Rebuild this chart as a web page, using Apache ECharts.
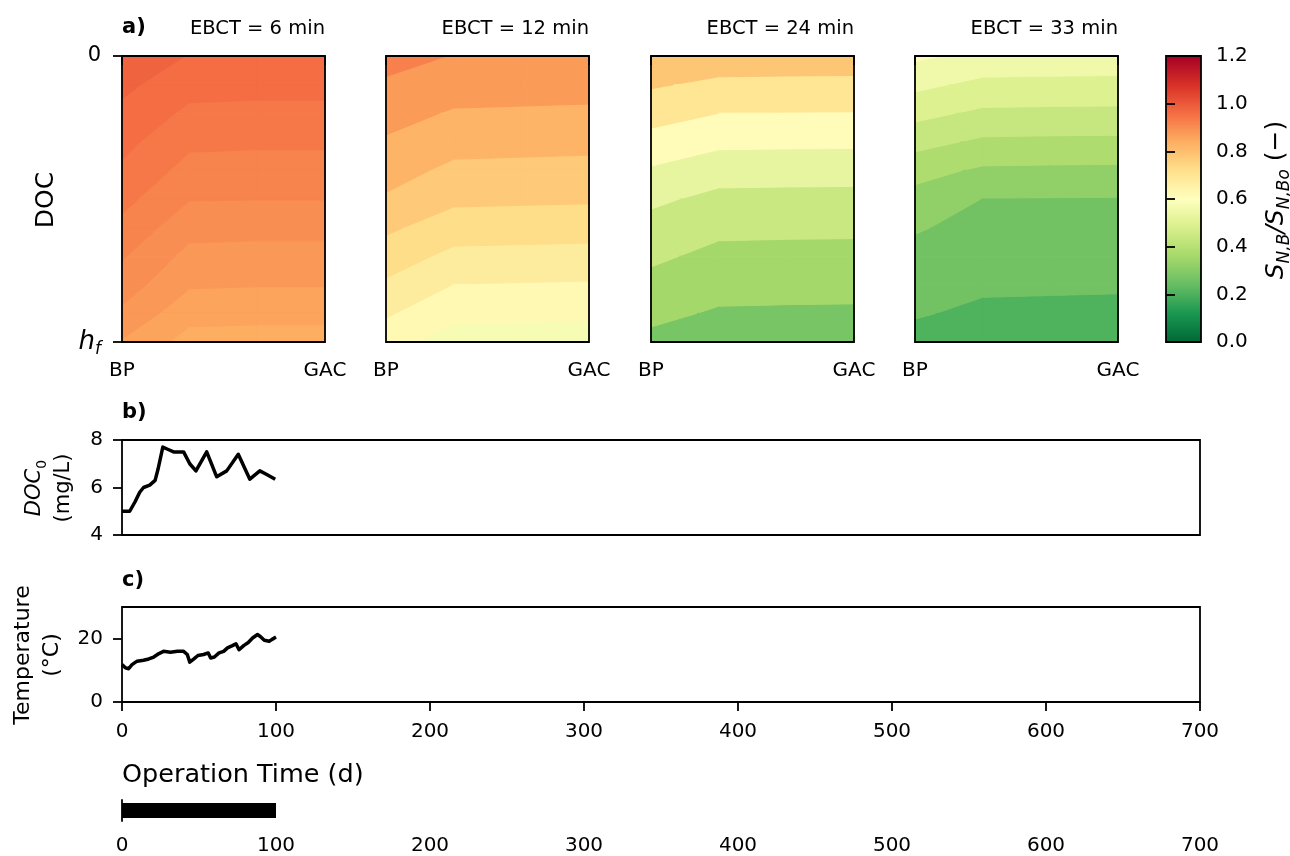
<!DOCTYPE html>
<html>
<head>
<meta charset="utf-8">
<script src="https://cdn.jsdelivr.net/npm/echarts@6/dist/echarts.min.js"></script>
<style>
  html, body { margin: 0; padding: 0; background: #fff; }
  #chart { width: 1290px; height: 856px; }
</style>
</head>
<body>
<div id="chart"></div>
<script>
// ---- Filter profile data -------------------------------------------------
// Columns: position along the treatment train (BP ... GAC); rows: depth from top (0) to h_f (1)
const filterPositions = [0, 1, 2, 3];
const positionTicks = [0, 3];
const positionLabels = ['BP', 'GAC'];
const depthNodes = [0, 0.1, 0.2, 0.3, 0.4, 0.5, 0.6, 0.7, 0.8, 0.9, 1.0];
const depthTicks = [0, 1];
const ebctTitles = ['EBCT = 6 min', 'EBCT = 12 min', 'EBCT = 24 min', 'EBCT = 33 min'];

// Normalised biomass S_N,B / S_N,Bo, one row per depth node
const snbEbct6 = [
  [0.984, 0.969, 0.968, 0.968],
  [0.975, 0.957, 0.956, 0.956],
  [0.965, 0.946, 0.945, 0.945],
  [0.956, 0.934, 0.933, 0.933],
  [0.947, 0.923, 0.922, 0.922],
  [0.936, 0.911, 0.9105, 0.9105],
  [0.925, 0.897, 0.896, 0.896],
  [0.912, 0.884, 0.883, 0.883],
  [0.900, 0.872, 0.871, 0.871],
  [0.886, 0.857, 0.856, 0.856],
  [0.868, 0.842, 0.841, 0.841]
];
const snbEbct12 = [
  [0.918, 0.898, 0.898, 0.897],
  [0.893, 0.873, 0.871, 0.869],
  [0.869, 0.845, 0.843, 0.841],
  [0.844, 0.817, 0.815, 0.813],
  [0.820, 0.789, 0.787, 0.785],
  [0.794, 0.760, 0.758, 0.756],
  [0.759, 0.724, 0.722, 0.720],
  [0.726, 0.687, 0.685, 0.683],
  [0.692, 0.649, 0.647, 0.645],
  [0.656, 0.613, 0.611, 0.609],
  [0.620, 0.576, 0.574, 0.572]
];
const snbEbct24 = [
  [0.809, 0.788, 0.786, 0.785],
  [0.749, 0.722, 0.720, 0.719],
  [0.688, 0.655, 0.653, 0.652],
  [0.625, 0.589, 0.587, 0.586],
  [0.560, 0.520, 0.518, 0.517],
  [0.501, 0.463, 0.461, 0.460],
  [0.456, 0.418, 0.416, 0.415],
  [0.415, 0.379, 0.377, 0.376],
  [0.375, 0.342, 0.340, 0.339],
  [0.334, 0.306, 0.304, 0.303],
  [0.294, 0.269, 0.267, 0.266]
];
const snbEbct33 = [
  [0.592, 0.563, 0.561, 0.560],
  [0.537, 0.509, 0.507, 0.506],
  [0.482, 0.454, 0.452, 0.451],
  [0.427, 0.397, 0.395, 0.394],
  [0.370, 0.340, 0.338, 0.337],
  [0.328, 0.290, 0.289, 0.288],
  [0.296, 0.274, 0.273, 0.272],
  [0.275, 0.257, 0.256, 0.255],
  [0.256, 0.240, 0.239, 0.238],
  [0.237, 0.224, 0.223, 0.222],
  [0.217, 0.207, 0.206, 0.205]
];

// Filled-contour levels for each panel
const levelsEbct6 = [0.83, 0.85, 0.87, 0.89, 0.91, 0.93, 0.95, 0.97, 0.99];
const levelsEbct12 = [0.55, 0.60, 0.65, 0.70, 0.75, 0.80, 0.85, 0.90, 0.95];
const levelsEbct24 = [0.23, 0.315, 0.40, 0.485, 0.57, 0.655, 0.74, 0.825];
const levelsEbct33 = [0.175, 0.233, 0.291, 0.349, 0.407, 0.465, 0.523, 0.581, 0.639];

const colorbarTicks = [0, 0.2, 0.4, 0.6, 0.8, 1.0, 1.2];

// ---- Influent time series --------------------------------------------------
const docDays   = [0, 5, 8.5, 11.5, 14, 18, 21.5, 23.5, 26.5, 30, 33.5, 40, 44, 48, 55, 61.5, 68, 75.5, 83, 89.5, 94, 99.5];
const docValues = [5.0, 5.0, 5.4, 5.8, 6.0, 6.1, 6.3, 6.8, 7.7, 7.6, 7.5, 7.5, 7.0, 6.7, 7.5, 6.45, 6.7, 7.4, 6.35, 6.7, 6.55, 6.35];

const tempDays   = [0, 2.2, 4.3, 6.5, 9.8, 14, 17.4, 20.6, 24, 27, 31.5, 36, 40, 42.4, 44, 46.7, 49.3, 53, 56, 57.6, 60, 63, 66, 68.5, 71.7, 74, 76, 79, 82, 84.8, 88, 89.8, 92.4, 95.6, 97.2, 100];
const tempValues = [11.8, 10.8, 10.5, 11.8, 12.9, 13.2, 13.6, 14.2, 15.3, 16.0, 15.7, 16.0, 16.0, 15.0, 12.6, 13.6, 14.7, 15.0, 15.5, 13.9, 14.2, 15.5, 16.0, 17.1, 17.8, 18.4, 16.5, 17.8, 18.8, 20.2, 21.3, 20.7, 19.5, 19.2, 19.7, 20.5];

const operationSpan = [0, 100];
const timeTicks = [0, 100, 200, 300, 400, 500, 600, 700];

// ---- Colour map (RdYlGn reversed, 0 .. 1.2) --------------------------------
const RDYLGN_R = ['#006837', '#1a9850', '#66bd63', '#a6d96a', '#d9ef8b', '#ffffbf',
                  '#fee08b', '#fdae61', '#f46d43', '#d73027', '#a50026'];
const CBAR_MIN = 0, CBAR_MAX = 1.2;
const RGB_STOPS = RDYLGN_R.map(h => [1, 3, 5].map(o => parseInt(h.substr(o, 2), 16)));
function cmap(v) {
  const t = Math.min(1, Math.max(0, (v - CBAR_MIN) / (CBAR_MAX - CBAR_MIN))) * 10;
  const i = Math.min(9, Math.floor(t));
  const f = t - i;
  const a = RGB_STOPS[i], b = RGB_STOPS[i + 1];
  const c = a.map((x, k) => Math.round(x + f * (b[k] - x)));
  return 'rgb(' + c.join(',') + ')';
}

// Clip a polygon of [x, depth, value] vertices to the side where f(p) >= 0
function clipPoly(poly, f) {
  const out = [];
  for (let i = 0; i < poly.length; i++) {
    const a = poly[i], b = poly[(i + 1) % poly.length];
    const fa = f(a), fb = f(b);
    if (fa >= 0) out.push(a);
    if ((fa >= 0) !== (fb >= 0)) {
      const t = fa / (fa - fb);
      out.push([a[0] + t * (b[0] - a[0]), a[1] + t * (b[1] - a[1]), a[2] + t * (b[2] - a[2])]);
    }
  }
  return out;
}

// Filled contours: each grid cell is cut into its level bands, with the
// band edges interpolated linearly along the cell sides (marching squares).
function contourSeries(idx, Z, levels) {
  const cells = [];
  for (let j = 0; j < depthNodes.length - 1; j++) {
    for (let i = 0; i < filterPositions.length - 1; i++) cells.push([i, j]);
  }
  return {
    type: 'custom',
    coordinateSystem: 'cartesian2d',
    xAxisIndex: idx,
    yAxisIndex: idx,
    silent: true,
    z: 1,
    data: cells,
    renderItem(params, api) {
      const i = api.value(0), j = api.value(1);
      const x0 = filterPositions[i], x1 = filterPositions[i + 1];
      const d0 = depthNodes[j], d1 = depthNodes[j + 1];
      const quad = [
        [x0, d0, Z[j][i]], [x1, d0, Z[j][i + 1]],
        [x1, d1, Z[j + 1][i + 1]], [x0, d1, Z[j + 1][i]]
      ];
      const children = [];
      for (let k = 0; k < levels.length - 1; k++) {
        const lo = levels[k], hi = levels[k + 1];
        let poly = clipPoly(quad, p => p[2] - lo);
        if (poly.length < 3) continue;
        poly = clipPoly(poly, p => hi - p[2]);
        if (poly.length < 3) continue;
        const col = cmap((lo + hi) / 2);
        children.push({
          type: 'polygon',
          shape: { points: poly.map(p => api.coord([p[0], p[1]])) },
          style: { fill: col, stroke: col, lineWidth: 1 }
        });
      }
      return { type: 'group', children };
    }
  };
}

// ---- Layout ----------------------------------------------------------------
const FONT = 'DejaVu Sans';
const INK = '#000';
const LINE_W = 1.8;
const TICK_FS = 20;
const panelLefts = [122, 386, 651, 915];
const PANEL_W = 203, PANEL_TOP = 56, PANEL_H = 286;
const fieldData = [snbEbct6, snbEbct12, snbEbct24, snbEbct33];
const fieldLevels = [levelsEbct6, levelsEbct12, levelsEbct24, levelsEbct33];

const frame = { show: true, borderColor: INK, borderWidth: LINE_W, backgroundColor: 'transparent', z: 10 };
const tickStyle = { color: INK, width: LINE_W };
const grids = [];
const xAxes = [];
const yAxes = [];
const series = [];

panelLefts.forEach((left, p) => {
  grids.push(Object.assign({ left, top: PANEL_TOP, width: PANEL_W, height: PANEL_H }, frame));
  xAxes.push({
    gridIndex: p, type: 'value', min: 0, max: 3, z: 10,
    axisLine: { show: false }, splitLine: { show: false },
    axisTick: { show: true, customValues: positionTicks, length: 9, lineStyle: tickStyle },
    axisLabel: {
      show: true, customValues: positionTicks, margin: 19,
      fontFamily: FONT, fontSize: TICK_FS, color: INK,
      formatter: v => positionLabels[positionTicks.indexOf(v)]
    }
  });
  yAxes.push({
    gridIndex: p, type: 'value', min: 0, max: 1, inverse: true, z: 10,
    axisLine: { show: false }, splitLine: { show: false },
    axisTick: { show: p === 0, customValues: depthTicks, length: 9, lineStyle: tickStyle },
    axisLabel: {
      show: p === 0, customValues: depthTicks, margin: 21,
      fontFamily: FONT, fontSize: 21, color: INK,
      formatter: v => (v === 0 ? '0' : '{h|h}{f|f}'),
      rich: {
        h: { fontFamily: FONT, fontSize: 26, fontStyle: 'italic', color: INK, lineHeight: 32, verticalAlign: 'middle' },
        f: { fontFamily: FONT, fontSize: 17, fontStyle: 'italic', color: INK, lineHeight: 17, verticalAlign: 'bottom' }
      }
    }
  });
  series.push(contourSeries(p, fieldData[p], fieldLevels[p]));
});

// Colour bar
grids.push(Object.assign({ left: 1166, top: PANEL_TOP, width: 35, height: PANEL_H }, frame));
xAxes.push({ gridIndex: 4, type: 'value', min: 0, max: 1, show: false });
yAxes.push({
  gridIndex: 4, type: 'value', position: 'right', min: CBAR_MIN, max: CBAR_MAX, interval: 0.2, z: 10,
  axisLine: { show: false }, splitLine: { show: false },
  axisTick: { show: true, inside: false, length: 9, lineStyle: tickStyle, customValues: colorbarTicks },
  axisLabel: { margin: 15, fontFamily: FONT, fontSize: TICK_FS, color: INK, customValues: colorbarTicks, formatter: v => v.toFixed(1) }
});
series.push({
  type: 'custom', coordinateSystem: 'cartesian2d', xAxisIndex: 4, yAxisIndex: 4, silent: true, z: 1,
  data: [[0, CBAR_MIN]],
  renderItem(params, api) {
    const lb = api.coord([0, CBAR_MIN]);
    const rt = api.coord([1, CBAR_MAX]);
    return {
      type: 'rect',
      shape: { x: lb[0], y: rt[1], width: rt[0] - lb[0], height: lb[1] - rt[1] },
      style: {
        fill: {
          type: 'linear', x: 0, y: 1, x2: 0, y2: 0,
          colorStops: RDYLGN_R.map((c, k) => ({ offset: k / 10, color: c }))
        }
      }
    };
  }
});

// Panel b: influent DOC
grids.push(Object.assign({ left: 122, top: 440, width: 1078, height: 95 }, frame));
xAxes.push({ gridIndex: 5, type: 'value', min: 0, max: 700, interval: 100, axisLine: { show: false }, axisTick: { show: false }, axisLabel: { show: false }, splitLine: { show: false } });
yAxes.push({
  gridIndex: 5, type: 'value', min: 4, max: 8, interval: 2, z: 10,
  axisLine: { show: false }, splitLine: { show: false },
  axisTick: { show: true, length: 9, lineStyle: tickStyle },
  axisLabel: { margin: 19, fontFamily: FONT, fontSize: TICK_FS, color: INK }
});
series.push({
  type: 'line', xAxisIndex: 5, yAxisIndex: 5, showSymbol: false, silent: true,
  lineStyle: { color: INK, width: 3.5, join: 'round' },
  data: docDays.map((d, k) => [d, docValues[k]])
});

// Panel c: water temperature
grids.push(Object.assign({ left: 122, top: 607, width: 1078, height: 95 }, frame));
xAxes.push({
  gridIndex: 6, type: 'value', min: 0, max: 700, interval: 100, z: 10,
  axisLine: { show: false }, splitLine: { show: false },
  axisTick: { show: true, length: 9, lineStyle: tickStyle, customValues: timeTicks },
  axisLabel: { margin: 20, fontFamily: FONT, fontSize: TICK_FS, color: INK, customValues: timeTicks }
});
yAxes.push({
  gridIndex: 6, type: 'value', min: 0, max: 30, z: 10,
  axisLine: { show: false }, splitLine: { show: false },
  axisTick: { show: true, customValues: [0, 20], length: 9, lineStyle: tickStyle },
  axisLabel: { customValues: [0, 20], margin: 19, fontFamily: FONT, fontSize: TICK_FS, color: INK }
});
series.push({
  type: 'line', xAxisIndex: 6, yAxisIndex: 6, showSymbol: false, silent: true,
  lineStyle: { color: INK, width: 3.5, join: 'round' },
  data: tempDays.map((d, k) => [d, tempValues[k]])
});

// Operation time bar
grids.push({ left: 122, top: 800, width: 1078, height: 22 });
xAxes.push({
  gridIndex: 7, type: 'value', min: 0, max: 700, interval: 100,
  axisLine: { show: false }, axisTick: { show: false }, splitLine: { show: false },
  axisLabel: { margin: 15, fontFamily: FONT, fontSize: TICK_FS, color: INK, customValues: timeTicks }
});
yAxes.push({
  gridIndex: 7, type: 'category', data: ['operation'],
  axisLine: { show: true, lineStyle: { color: INK, width: LINE_W } },
  axisTick: { show: false }, axisLabel: { show: false }
});
series.push({
  type: 'bar', xAxisIndex: 7, yAxisIndex: 7, silent: true, barWidth: 15,
  itemStyle: { color: INK },
  data: [operationSpan[1]]
});

// ---- Text ------------------------------------------------------------------
const txt = (x, y, text, extra) => ({
  type: 'text', x, y, silent: true,
  style: Object.assign({ text, fontFamily: FONT, fontSize: 20, fill: INK, align: 'left', verticalAlign: 'middle' }, extra || {})
});
const graphics = [
  txt(122, 28, 'a)', { fontWeight: 'bold', fontSize: 21 }),
  txt(122, 413, 'b)', { fontWeight: 'bold', fontSize: 21 }),
  txt(122, 581, 'c)', { fontWeight: 'bold', fontSize: 21 }),
  txt(122, 775, 'Operation Time (d)', { fontSize: 25.5 })
];
panelLefts.forEach((left, p) => {
  graphics.push(txt(left + PANEL_W, 29, ebctTitles[p], { align: 'right', fontSize: 19.5 }));
});
graphics.push(Object.assign(txt(46, 200, 'DOC', { align: 'center', fontSize: 25 }), { rotation: Math.PI / 2 }));
graphics.push(Object.assign(txt(49, 488, '{i|DOC}{s|0}\n(mg/L)', {
  align: 'center', fontSize: 21, lineHeight: 29,
  rich: {
    i: { fontFamily: FONT, fontSize: 21, fontStyle: 'italic', fill: INK, lineHeight: 29, verticalAlign: 'middle' },
    s: { fontFamily: FONT, fontSize: 14, fill: INK, lineHeight: 14, verticalAlign: 'bottom' }
  }
}), { rotation: Math.PI / 2 }));
graphics.push(Object.assign(txt(38, 655, 'Temperature\n(°C)', { align: 'center', fontSize: 22, lineHeight: 29 }), { rotation: Math.PI / 2 }));
graphics.push(Object.assign(txt(1276, 200, '{m|S}{s|N,B}{m|/S}{s|N,Bo}{r| (−)}', {
  align: 'center',
  rich: {
    m: { fontFamily: FONT, fontSize: 25, fontStyle: 'italic', fill: INK, lineHeight: 34, verticalAlign: 'middle' },
    s: { fontFamily: FONT, fontSize: 17, fontStyle: 'italic', fill: INK, lineHeight: 17, verticalAlign: 'bottom' },
    r: { fontFamily: FONT, fontSize: 25, fill: INK, lineHeight: 34, verticalAlign: 'middle' }
  }
}), { rotation: Math.PI / 2 }));

const chart = echarts.init(document.getElementById('chart'), null, { renderer: 'canvas' });
chart.setOption({
  animation: false,
  backgroundColor: '#fff',
  grid: grids,
  xAxis: xAxes,
  yAxis: yAxes,
  series,
  graphic: graphics
});
</script>
</body>
</html>
